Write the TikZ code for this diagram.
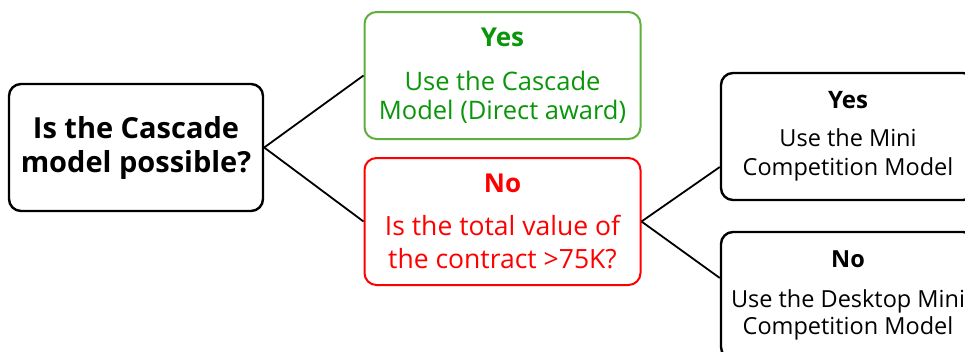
\documentclass[tikz,border=0pt]{standalone}
\usepackage{fontspec}
\setmainfont{Open Sans}
\definecolor{gtext}{RGB}{10,150,10}
\definecolor{gline}{RGB}{95,175,60}
\definecolor{rtext}{RGB}{255,0,0}
\begin{document}
\begin{tikzpicture}[x=1pt,y=-1pt,
  box/.style={draw=black,line width=2.4pt,rounded corners=12pt,minimum width=254pt,minimum height=127pt,align=center,inner sep=0pt,anchor=center},
  link/.style={line width=1.8pt,black}]
\clip (0,0) rectangle (965,351);
\fill[white] (0,0) rectangle (965,351);
\node[box,font=\fontsize{29}{34}\selectfont\bfseries] (q) at (136,147.5) {Is the Cascade\\model possible?};
\node[box,draw=gline,line width=2pt,minimum width=276pt,text=gtext,font=\fontsize{25.5}{29}\selectfont] (yes) at (502.5,75.5)
  {{\bfseries\fontsize{26}{29}\selectfont Yes}\\[15pt]Use the Cascade\\Model (Direct award)};
\node[box,draw=rtext,line width=2pt,minimum width=276pt,text=rtext,font=\fontsize{26.5}{33}\selectfont] (no) at (502.5,221.5)
  {{\bfseries\fontsize{26}{33}\selectfont No}\\[10pt]Is the total value of\\the contract >75K?};
\node[box,font=\fontsize{23.5}{29}\selectfont] (yes2) at (848,136.5)
  {{\bfseries\fontsize{24}{29}\selectfont Yes}\\[9pt]Use the Mini\\Competition Model};
\node[box,font=\fontsize{23.5}{27}\selectfont] (no2) at (848,295.5)
  {{\bfseries\fontsize{23.5}{27}\selectfont No}\\[13pt]Use the Desktop Mini\\Competition Model};
\coordinate (p1) at (yes2.west |- 0,167);
\coordinate (p2) at (no2.west |- 0,278);
\draw[link] (q.east) -- (yes.west);
\draw[link] (q.east) -- (no.west);
\draw[link] (no.east) -- (p1);
\draw[link] (no.east) -- (p2);
\end{tikzpicture}
\end{document}
